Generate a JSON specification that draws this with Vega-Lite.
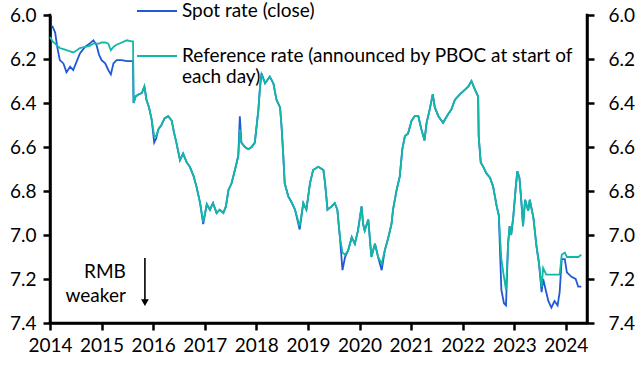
{
  "$schema": "https://vega.github.io/schema/vega-lite/v6.json",
  "width": 537,
  "height": 308,
  "autosize": {"type": "none"},
  "padding": {"left": 50, "top": 15, "right": 53, "bottom": 49},
  "config": {
    "view": {"strokeWidth": 0}
  },
  "data": {
    "values": [
      {"year": 2014.00, "spot": 6.045, "ref": 6.10},
      {"year": 2014.05, "spot": 6.053, "ref": 6.12},
      {"year": 2014.10, "spot": 6.08, "ref": 6.13},
      {"year": 2014.14, "spot": 6.145, "ref": 6.14},
      {"year": 2014.19, "spot": 6.205, "ref": 6.15},
      {"year": 2014.26, "spot": 6.22, "ref": 6.155},
      {"year": 2014.32, "spot": 6.26, "ref": 6.16},
      {"year": 2014.39, "spot": 6.235, "ref": 6.165},
      {"year": 2014.45, "spot": 6.25, "ref": 6.17},
      {"year": 2014.52, "spot": 6.21, "ref": 6.16},
      {"year": 2014.58, "spot": 6.175, "ref": 6.15},
      {"year": 2014.68, "spot": 6.145, "ref": 6.145},
      {"year": 2014.77, "spot": 6.13, "ref": 6.14},
      {"year": 2014.84, "spot": 6.115, "ref": 6.13},
      {"year": 2014.90, "spot": 6.135, "ref": 6.13},
      {"year": 2014.95, "spot": 6.18, "ref": 6.13},
      {"year": 2015.00, "spot": 6.205, "ref": 6.125},
      {"year": 2015.07, "spot": 6.22, "ref": 6.125},
      {"year": 2015.13, "spot": 6.25, "ref": 6.13},
      {"year": 2015.18, "spot": 6.27, "ref": 6.16},
      {"year": 2015.23, "spot": 6.22, "ref": 6.145},
      {"year": 2015.29, "spot": 6.205, "ref": 6.135},
      {"year": 2015.39, "spot": 6.205, "ref": 6.125},
      {"year": 2015.49, "spot": 6.21, "ref": 6.115},
      {"year": 2015.58, "spot": 6.21, "ref": 6.12},
      {"year": 2015.61, "spot": 6.21, "ref": 6.12},
      {"year": 2015.62, "spot": 6.40, "ref": 6.40},
      {"year": 2015.66, "spot": 6.37, "ref": 6.37},
      {"year": 2015.72, "spot": 6.36, "ref": 6.36},
      {"year": 2015.78, "spot": 6.355, "ref": 6.355},
      {"year": 2015.83, "spot": 6.325, "ref": 6.325},
      {"year": 2015.87, "spot": 6.385, "ref": 6.385},
      {"year": 2015.92, "spot": 6.42, "ref": 6.42},
      {"year": 2015.97, "spot": 6.475, "ref": 6.475},
      {"year": 2016.02, "spot": 6.58, "ref": 6.55},
      {"year": 2016.06, "spot": 6.56, "ref": 6.55},
      {"year": 2016.10, "spot": 6.52, "ref": 6.52},
      {"year": 2016.16, "spot": 6.50, "ref": 6.50},
      {"year": 2016.22, "spot": 6.47, "ref": 6.47},
      {"year": 2016.29, "spot": 6.46, "ref": 6.46},
      {"year": 2016.36, "spot": 6.48, "ref": 6.48},
      {"year": 2016.40, "spot": 6.53, "ref": 6.53},
      {"year": 2016.45, "spot": 6.58, "ref": 6.58},
      {"year": 2016.52, "spot": 6.66, "ref": 6.66},
      {"year": 2016.58, "spot": 6.63, "ref": 6.63},
      {"year": 2016.65, "spot": 6.67, "ref": 6.67},
      {"year": 2016.71, "spot": 6.69, "ref": 6.69},
      {"year": 2016.78, "spot": 6.73, "ref": 6.73},
      {"year": 2016.84, "spot": 6.78, "ref": 6.78},
      {"year": 2016.91, "spot": 6.855, "ref": 6.855},
      {"year": 2016.97, "spot": 6.95, "ref": 6.94},
      {"year": 2017.04, "spot": 6.86, "ref": 6.86},
      {"year": 2017.10, "spot": 6.885, "ref": 6.885},
      {"year": 2017.16, "spot": 6.855, "ref": 6.855},
      {"year": 2017.23, "spot": 6.90, "ref": 6.90},
      {"year": 2017.29, "spot": 6.885, "ref": 6.885},
      {"year": 2017.36, "spot": 6.90, "ref": 6.90},
      {"year": 2017.41, "spot": 6.87, "ref": 6.87},
      {"year": 2017.46, "spot": 6.795, "ref": 6.795},
      {"year": 2017.52, "spot": 6.765, "ref": 6.765},
      {"year": 2017.59, "spot": 6.70, "ref": 6.70},
      {"year": 2017.65, "spot": 6.64, "ref": 6.64},
      {"year": 2017.68, "spot": 6.46, "ref": 6.52},
      {"year": 2017.71, "spot": 6.58, "ref": 6.58},
      {"year": 2017.78, "spot": 6.60, "ref": 6.60},
      {"year": 2017.84, "spot": 6.61, "ref": 6.61},
      {"year": 2017.91, "spot": 6.60, "ref": 6.60},
      {"year": 2017.97, "spot": 6.58, "ref": 6.58},
      {"year": 2018.04, "spot": 6.43, "ref": 6.43},
      {"year": 2018.07, "spot": 6.33, "ref": 6.33},
      {"year": 2018.10, "spot": 6.265, "ref": 6.27},
      {"year": 2018.17, "spot": 6.31, "ref": 6.31},
      {"year": 2018.26, "spot": 6.28, "ref": 6.28},
      {"year": 2018.33, "spot": 6.31, "ref": 6.31},
      {"year": 2018.39, "spot": 6.385, "ref": 6.385},
      {"year": 2018.46, "spot": 6.42, "ref": 6.42},
      {"year": 2018.49, "spot": 6.51, "ref": 6.51},
      {"year": 2018.52, "spot": 6.63, "ref": 6.63},
      {"year": 2018.55, "spot": 6.765, "ref": 6.765},
      {"year": 2018.62, "spot": 6.825, "ref": 6.825},
      {"year": 2018.68, "spot": 6.85, "ref": 6.85},
      {"year": 2018.75, "spot": 6.885, "ref": 6.885},
      {"year": 2018.84, "spot": 6.975, "ref": 6.96},
      {"year": 2018.91, "spot": 6.855, "ref": 6.855},
      {"year": 2018.97, "spot": 6.885, "ref": 6.885},
      {"year": 2019.04, "spot": 6.765, "ref": 6.765},
      {"year": 2019.10, "spot": 6.705, "ref": 6.705},
      {"year": 2019.20, "spot": 6.69, "ref": 6.69},
      {"year": 2019.30, "spot": 6.705, "ref": 6.705},
      {"year": 2019.33, "spot": 6.76, "ref": 6.76},
      {"year": 2019.38, "spot": 6.885, "ref": 6.885},
      {"year": 2019.46, "spot": 6.87, "ref": 6.87},
      {"year": 2019.52, "spot": 6.855, "ref": 6.855},
      {"year": 2019.57, "spot": 6.885, "ref": 6.885},
      {"year": 2019.62, "spot": 7.01, "ref": 7.01},
      {"year": 2019.67, "spot": 7.16, "ref": 7.08},
      {"year": 2019.72, "spot": 7.10, "ref": 7.09},
      {"year": 2019.78, "spot": 7.07, "ref": 7.07},
      {"year": 2019.85, "spot": 7.01, "ref": 7.01},
      {"year": 2019.91, "spot": 7.04, "ref": 7.04},
      {"year": 2019.97, "spot": 6.98, "ref": 6.98},
      {"year": 2020.04, "spot": 6.87, "ref": 6.87},
      {"year": 2020.07, "spot": 6.95, "ref": 6.95},
      {"year": 2020.10, "spot": 6.98, "ref": 6.98},
      {"year": 2020.17, "spot": 6.93, "ref": 6.93},
      {"year": 2020.23, "spot": 7.10, "ref": 7.10},
      {"year": 2020.30, "spot": 7.04, "ref": 7.04},
      {"year": 2020.36, "spot": 7.10, "ref": 7.10},
      {"year": 2020.43, "spot": 7.16, "ref": 7.13},
      {"year": 2020.49, "spot": 7.07, "ref": 7.07},
      {"year": 2020.56, "spot": 7.01, "ref": 7.01},
      {"year": 2020.62, "spot": 6.95, "ref": 6.95},
      {"year": 2020.65, "spot": 6.885, "ref": 6.885},
      {"year": 2020.72, "spot": 6.795, "ref": 6.795},
      {"year": 2020.78, "spot": 6.735, "ref": 6.735},
      {"year": 2020.83, "spot": 6.61, "ref": 6.61},
      {"year": 2020.88, "spot": 6.55, "ref": 6.55},
      {"year": 2020.94, "spot": 6.54, "ref": 6.54},
      {"year": 2021.01, "spot": 6.48, "ref": 6.48},
      {"year": 2021.07, "spot": 6.46, "ref": 6.46},
      {"year": 2021.14, "spot": 6.46, "ref": 6.46},
      {"year": 2021.20, "spot": 6.52, "ref": 6.52},
      {"year": 2021.26, "spot": 6.57, "ref": 6.57},
      {"year": 2021.30, "spot": 6.49, "ref": 6.49},
      {"year": 2021.36, "spot": 6.43, "ref": 6.43},
      {"year": 2021.42, "spot": 6.36, "ref": 6.36},
      {"year": 2021.46, "spot": 6.42, "ref": 6.42},
      {"year": 2021.53, "spot": 6.46, "ref": 6.46},
      {"year": 2021.62, "spot": 6.49, "ref": 6.49},
      {"year": 2021.72, "spot": 6.45, "ref": 6.45},
      {"year": 2021.78, "spot": 6.43, "ref": 6.43},
      {"year": 2021.85, "spot": 6.385, "ref": 6.385},
      {"year": 2021.95, "spot": 6.36, "ref": 6.36},
      {"year": 2022.04, "spot": 6.34, "ref": 6.34},
      {"year": 2022.11, "spot": 6.325, "ref": 6.325},
      {"year": 2022.17, "spot": 6.30, "ref": 6.30},
      {"year": 2022.24, "spot": 6.34, "ref": 6.34},
      {"year": 2022.30, "spot": 6.37, "ref": 6.37},
      {"year": 2022.31, "spot": 6.55, "ref": 6.55},
      {"year": 2022.35, "spot": 6.67, "ref": 6.67},
      {"year": 2022.40, "spot": 6.69, "ref": 6.69},
      {"year": 2022.46, "spot": 6.72, "ref": 6.72},
      {"year": 2022.53, "spot": 6.74, "ref": 6.74},
      {"year": 2022.59, "spot": 6.78, "ref": 6.78},
      {"year": 2022.66, "spot": 6.87, "ref": 6.87},
      {"year": 2022.70, "spot": 6.91, "ref": 6.91},
      {"year": 2022.75, "spot": 7.25, "ref": 7.11},
      {"year": 2022.80, "spot": 7.31, "ref": 7.19},
      {"year": 2022.84, "spot": 7.32, "ref": 7.25},
      {"year": 2022.88, "spot": 7.04, "ref": 7.04},
      {"year": 2022.91, "spot": 6.96, "ref": 6.96},
      {"year": 2022.94, "spot": 7.00, "ref": 7.00},
      {"year": 2022.98, "spot": 6.92, "ref": 6.92},
      {"year": 2023.03, "spot": 6.78, "ref": 6.78},
      {"year": 2023.06, "spot": 6.71, "ref": 6.71},
      {"year": 2023.10, "spot": 6.74, "ref": 6.74},
      {"year": 2023.14, "spot": 6.855, "ref": 6.855},
      {"year": 2023.17, "spot": 6.96, "ref": 6.96},
      {"year": 2023.21, "spot": 6.84, "ref": 6.84},
      {"year": 2023.27, "spot": 6.89, "ref": 6.89},
      {"year": 2023.30, "spot": 6.84, "ref": 6.84},
      {"year": 2023.37, "spot": 6.92, "ref": 6.92},
      {"year": 2023.43, "spot": 7.05, "ref": 7.05},
      {"year": 2023.48, "spot": 7.13, "ref": 7.13},
      {"year": 2023.53, "spot": 7.26, "ref": 7.235},
      {"year": 2023.56, "spot": 7.20, "ref": 7.15},
      {"year": 2023.62, "spot": 7.26, "ref": 7.18},
      {"year": 2023.66, "spot": 7.30, "ref": 7.18},
      {"year": 2023.72, "spot": 7.33, "ref": 7.18},
      {"year": 2023.78, "spot": 7.30, "ref": 7.18},
      {"year": 2023.84, "spot": 7.32, "ref": 7.18},
      {"year": 2023.88, "spot": 7.26, "ref": 7.18},
      {"year": 2023.92, "spot": 7.11, "ref": 7.09},
      {"year": 2023.98, "spot": 7.11, "ref": 7.08},
      {"year": 2024.02, "spot": 7.17, "ref": 7.10},
      {"year": 2024.11, "spot": 7.19, "ref": 7.10},
      {"year": 2024.19, "spot": 7.20, "ref": 7.10},
      {"year": 2024.24, "spot": 7.235, "ref": 7.10},
      {"year": 2024.30, "spot": 7.235, "ref": 7.09}
    ]
  },
  "layer": [
    {
      "layer": [
        {
          "mark": {"type": "line", "strokeWidth": 1.8},
          "encoding": {
            "x": {
              "field": "year", "type": "quantitative",
              "scale": {"domain": [2014, 2024.41], "nice": false, "zero": false},
              "axis": {"title": null, "grid": false, "domainColor": "black", "domainWidth": 2.5, "tickColor": "black", "tickWidth": 2.5, "tickSize": 7, "labelFont": "Lato", "labelFontSize": 19, "labelColor": "black", "values": [2014, 2015, 2016, 2017, 2018, 2019, 2020, 2021, 2022, 2023, 2024], "format": "d", "labelPadding": 6, "labelFlush": false, "labelOverlap": false}
            },
            "y": {
              "field": "spot", "type": "quantitative",
              "scale": {"domain": [6.0, 7.4], "reverse": true, "zero": false, "nice": false},
              "axis": {"title": null, "orient": "left", "grid": false, "domainColor": "black", "domainWidth": 2.5, "tickColor": "black", "tickWidth": 2.5, "tickSize": 7, "labelFont": "Lato", "labelFontSize": 19, "labelColor": "black", "values": [6.0, 6.2, 6.4, 6.6, 6.8, 7.0, 7.2, 7.4], "format": ".1f", "labelPadding": 7}
            },
            "color": {
              "datum": "Spot rate (close)",
              "type": "nominal",
              "scale": {
                "domain": ["Spot rate (close)", "Reference rate (announced by PBOC at start of each day)"],
                "range": ["#2158d6", "#12b8a6"]
              },
              "legend": {
                "orient": "none",
                "legendX": 86,
                "legendY": -25,
                "title": null,
                "padding": 0,
                "symbolType": "stroke",
                "symbolSize": 1600,
                "symbolStrokeWidth": 2,
                "labelFont": "Lato",
                "labelFontSize": 19,
                "labelColor": "black",
                "labelLimit": 0,
                "labelOffset": 4,
                "rowPadding": 14,
                "labelExpr": "datum.label == 'Spot rate (close)' ? datum.label : ['Reference rate (announced by PBOC at start of', 'each day)']"
              }
            }
          }
        },
        {
          "data": {"values": [{}]},
          "mark": {"type": "text", "text": ["RMB", "weaker"], "align": "right", "baseline": "middle", "lineHeight": 24, "fontSize": 19, "font": "Lato", "color": "black"},
          "encoding": {
            "x": {"datum": 2015.47, "type": "quantitative"},
            "y": {"datum": 7.166, "type": "quantitative"}
          }
        },
        {
          "data": {"values": [{}]},
          "mark": {"type": "rule", "color": "black", "strokeWidth": 1.6},
          "encoding": {
            "x": {"datum": 2015.84, "type": "quantitative"},
            "y": {"datum": 7.105, "type": "quantitative"},
            "y2": {"datum": 7.3}
          }
        },
        {
          "data": {"values": [{}]},
          "mark": {"type": "point", "shape": "triangle-down", "filled": true, "color": "black", "opacity": 1, "size": 60},
          "encoding": {
            "x": {"datum": 2015.84, "type": "quantitative"},
            "y": {"datum": 7.307, "type": "quantitative"}
          }
        },
        {
          "data": {"values": [{}]},
          "mark": {"type": "rule", "color": "black", "strokeWidth": 2.5, "strokeCap": "square"},
          "encoding": {
            "x": {"datum": 2014, "type": "quantitative"},
            "y": {"datum": 6.0, "type": "quantitative"},
            "y2": {"datum": 7.4}
          }
        },
        {
          "data": {"values": [{}]},
          "mark": {"type": "rule", "color": "black", "strokeWidth": 2.5, "strokeCap": "square"},
          "encoding": {
            "x": {"datum": 2024.41, "type": "quantitative"},
            "y": {"datum": 6.0, "type": "quantitative"},
            "y2": {"datum": 7.4}
          }
        },
        {
          "data": {"values": [{}]},
          "mark": {"type": "rule", "color": "black", "strokeWidth": 2.5, "strokeCap": "square"},
          "encoding": {
            "x": {"datum": 2014, "type": "quantitative"},
            "x2": {"datum": 2024.41},
            "y": {"datum": 7.4, "type": "quantitative"}
          }
        }
      ]
    },
    {
      "mark": {"type": "line", "strokeWidth": 1.8},
      "encoding": {
        "x": {
          "field": "year", "type": "quantitative",
          "axis": {"title": null, "grid": false, "domainColor": "black", "domainWidth": 2.5, "tickColor": "black", "tickWidth": 2.5, "tickSize": 7, "labelFont": "Lato", "labelFontSize": 19, "labelColor": "black", "values": [2014, 2015, 2016, 2017, 2018, 2019, 2020, 2021, 2022, 2023, 2024], "format": "d", "labelPadding": 6, "labelFlush": false, "labelOverlap": false}
        },
        "y": {
          "field": "ref", "type": "quantitative",
          "axis": {"title": null, "orient": "right", "grid": false, "domainColor": "black", "domainWidth": 2.5, "tickColor": "black", "tickWidth": 2.5, "tickSize": 7, "labelFont": "Lato", "labelFontSize": 19, "labelColor": "black", "values": [6.0, 6.2, 6.4, 6.6, 6.8, 7.0, 7.2, 7.4], "format": ".1f", "labelPadding": 14}
        },
        "color": {"datum": "Reference rate (announced by PBOC at start of each day)", "type": "nominal"}
      }
    }
  ],
  "resolve": {"axis": {"y": "independent"}}
}
